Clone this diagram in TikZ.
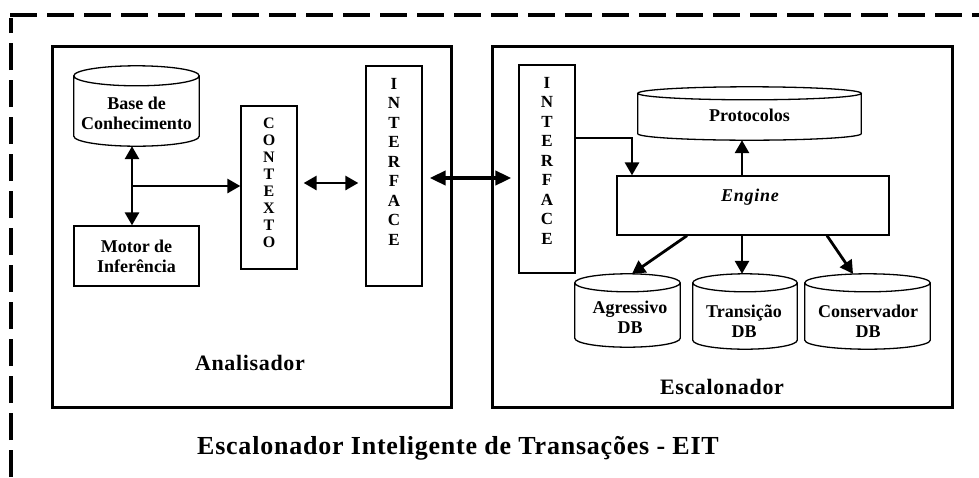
\documentclass[tikz,border=0pt]{standalone}
\usepackage{fontspec}
\setmainfont{Liberation Serif}
\usetikzlibrary{arrows.meta,calc}
\newcommand\drawcyl[2]{%
  \draw[cylline] let \p1=(#1.north west), \p2=(#1.south east), \n1={(\x2-\x1)/2} in
    (\x1,\y1-#2pt) -- (\x1,\y2+#2pt)
    arc[start angle=180,end angle=360,x radius=\n1,y radius=#2pt]
    -- (\x2,\y1-#2pt)
    (\x1+\n1,\y1-#2pt) ellipse[x radius=\n1,y radius=#2pt];}
\begin{document}
\begin{tikzpicture}[x=1pt,y=-1pt,
  frame/.style={draw,line width=3pt},
  box/.style={draw,line width=1.3pt,inner sep=0pt},
  cylbox/.style={draw=none,inner sep=0pt},
  cylline/.style={line width=1.3pt},
  txt/.style={font=\fontsize{18}{20}\selectfont\bfseries,align=center,inner sep=0pt},
  vtxt/.style={font=\fontsize{17}{19.5}\selectfont\bfseries,align=center,inner sep=0pt,anchor=north},
  big/.style={font=\fontsize{22}{24}\selectfont\bfseries\addfontfeature{LetterSpace=3},inner sep=0pt},
  arr/.style={line width=2.8pt,-{Triangle[length=13pt,width=14pt]}},
  darr/.style={line width=2.8pt,{Triangle[length=13pt,width=14pt]}-{Triangle[length=13pt,width=14pt]}},
  bigarr/.style={line width=4pt,{Triangle[length=16pt,width=14pt]}-{Triangle[length=16pt,width=14pt]}},
  outer/.style={line width=3.5pt,dash pattern=on 27pt off 10pt}
]
\useasboundingbox (0,0) rectangle (979,477);
% outer dashed frame
\coordinate (o1) at (11,477);
\coordinate (o2) at (11,15);
\coordinate (o3) at (979,15);
\draw[outer] (o1) -- (11,18);
\draw[outer] (10,15) -- (o3);

% frames
\node[frame,minimum width=399pt,minimum height=361pt,inner sep=0pt] (ana) at (251.5,226.5) {};
\node[frame,minimum width=460pt,minimum height=361pt,inner sep=0pt] (esc) at (722,226.5) {};

% left side
\node[cylbox,minimum width=125pt,minimum height=80pt] (base) at (136.5,106) {};
\drawcyl{base}{10}
\node[txt] (basetxt) at (136.5,113) {Base de\\Conhecimento};
\node[box,minimum width=125pt,minimum height=60pt,txt] (motor) at (136.5,256) {Motor de\\Inferência};
\node[box,minimum width=56pt,minimum height=163pt] (ctx) at (269,187.5) {};
\node[vtxt,font=\fontsize{16}{17}\selectfont\bfseries] (ctxtxt) at (269,117.5) {C\\O\\N\\T\\E\\X\\T\\O};
\node[box,minimum width=56pt,minimum height=220pt] (ifl) at (394,176) {};
\node[vtxt] (ifltxt) at (394,78) {I\\N\\T\\E\\R\\F\\A\\C\\E};
\node[big] (analab) at (250,363) {Analisador};

% right side
\node[box,minimum width=56pt,minimum height=208pt] (ifr) at (547,169) {};
\node[vtxt] (ifrtxt) at (547,77) {I\\N\\T\\E\\R\\F\\A\\C\\E};
\node[cylbox,minimum width=223pt,minimum height=53pt] (proto) at (749.5,113.5) {};
\drawcyl{proto}{6.5}
\node[txt] (prototxt) at (749.5,115) {Protocolos};
\node[box,minimum width=272pt,minimum height=59pt] (engine) at (753,205.5) {};
\node[txt,font=\fontsize{18}{20}\selectfont\bfseries\itshape\addfontfeature{LetterSpace=4}] (enginetxt) at (750,197) {Engine};
\node[cylbox,minimum width=105pt,minimum height=73pt] (agr) at (627.5,310.5) {};
\drawcyl{agr}{9}
\node[txt] (agrtxt) at (630,317) {Agressivo\\DB};
\node[cylbox,minimum width=104pt,minimum height=75pt] (tra) at (745,311.5) {};
\drawcyl{tra}{9}
\node[txt] (tratxt) at (744,321) {Transição\\DB};
\node[cylbox,minimum width=125pt,minimum height=75pt] (con) at (867.5,311.5) {};
\drawcyl{con}{9}
\node[txt] (contxt) at (868,321) {Conservador\\DB};
\node[big] (esclab) at (722,387) {Escalonador};

% title
\node[big,font=\fontsize{26}{28}\selectfont\bfseries\addfontfeature{LetterSpace=3}] (title) at (458,448) {Escalonador Inteligente de Transações - EIT};

% connectors
\draw[darr] ([xshift=-4.5pt]base.south) -- ([xshift=-4.5pt]motor.north);
\coordinate (j) at (132,186);
\draw[arr] (j) -- (j -| ctx.west);
\coordinate (yc) at (0,183);
\draw[darr,shorten <=6pt,shorten >=7pt] (ctx.east |- yc) -- (ifl.west |- yc);
\coordinate (yb) at (0,178);
\draw[bigarr,shorten <=7pt,shorten >=7pt] (ifl.east |- yb) -- (ifr.west |- yb);
\coordinate (kink) at (632,138);
\draw[line width=1.3pt] (ifr.east |- kink) -- ([xshift=1.4pt]kink);
\draw[arr] (kink) -- (kink |- engine.north);
\draw[arr] ([xshift=-11pt]engine.north) -- ([xshift=-11pt]engine.north |- proto.south);
\draw[arr] ([xshift=-11pt]engine.south) -- ([xshift=-11pt]engine.south |- tra.north);
\draw[arr] ([xshift=-66pt]engine.south) -- ([xshift=4.5pt]agr.north);
\draw[arr] ([xshift=74pt]engine.south) -- ([xshift=-14.5pt]con.north);
\end{tikzpicture}
\end{document}
